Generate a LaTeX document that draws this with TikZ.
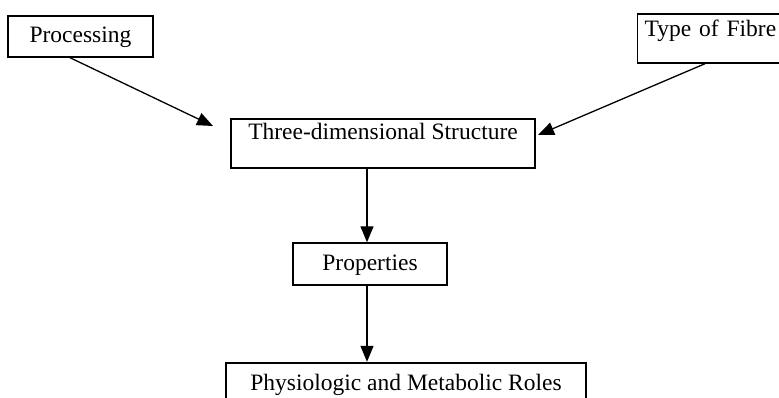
\documentclass[tikz,border=0pt]{standalone}
\usepackage{fontspec}
\setmainfont{Liberation Serif}
\usetikzlibrary{arrows.meta}
\begin{document}
\begin{tikzpicture}[x=1pt,y=-1pt,
  box/.style={draw, line width=1.4pt, inner xsep=0pt, inner ysep=0pt, font=\fontsize{23.5}{27}\selectfont},
  arr/.style={line width=1.3pt, -{Triangle[length=16pt,width=13pt]}}]
\useasboundingbox (0,0) rectangle (779,398);
\node[box, minimum width=145pt, text height=27pt, text depth=14pt] (proc) at (80.5,36.5) {Processing};
\node[box, anchor=west, text width=146pt, inner xsep=7pt, align=left, text height=23pt, text depth=26pt] (type) at (637,38.5) {Type of Fibre};
\node[box, minimum width=304pt, text height=21pt, text depth=28pt] (three) at (383,143.5) {Three-dimensional Structure};
\node[box, minimum width=154pt, text height=27pt, text depth=15pt] (props) at (370,264) {Properties};
\node[box, line width=2.4pt, minimum width=360pt, text height=27pt, text depth=20pt] (phys) at (406,386.5) {Physiologic and Metabolic Roles};
\coordinate (tipA) at (213,126);
\coordinate (tipB) at (538,135);
\draw[arr] ([xshift=-10.5pt]proc.south) -- (tipA);
\draw[arr] ([xshift=68pt]type.south west) -- (tipB);
\draw[arr] ([xshift=-3pt]props.north |- three.south) -- ([xshift=-3pt]props.north);
\draw[arr] ([xshift=-3pt]props.south) -- ([xshift=-3pt]props.south |- phys.north);
\end{tikzpicture}
\end{document}
